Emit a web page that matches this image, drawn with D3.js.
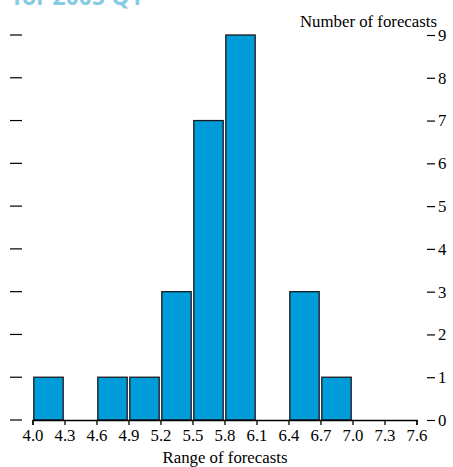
<!DOCTYPE html>
<html><head><meta charset="utf-8">
<script src="https://cdn.jsdelivr.net/npm/d3@7"></script>
<style>body{margin:0;background:#fff}svg{display:block}</style>
</head><body>
<script>
const binEdges = [4.0,4.3,4.6,4.9,5.2,5.5,5.8,6.1,6.4,6.7,7.0,7.3,7.6];
const tickLabels = ["4.0","4.3","4.6","4.9","5.2","5.5","5.8","6.1","6.4","6.7","7.0","7.3","7.6"];
const counts = [1,0,1,1,3,7,9,0,3,1,0,0];
const yTicks = [0,1,2,3,4,5,6,7,8,9];

const W=453,H=467;
const svg=d3.select("body").append("svg").attr("width",W).attr("height",H);
const font="'Liberation Serif', 'DejaVu Serif', serif";
const fs=16.8;
const x=d3.scaleLinear().domain([4.0,7.6]).range([32.5,416.5]);
const y=d3.scaleLinear().domain([0,9]).range([420,35]);

// title (clipped at top, as in the reference)
svg.append("text").attr("x",13).attr("y",5).text("for 2005 Q1")
  .attr("font-family","'Open Sans', 'DejaVu Sans', sans-serif").attr("font-weight","bold")
  .attr("font-size",23).attr("fill","#86cbe4");

// left ticks
svg.append("g").selectAll("line").data(yTicks).join("line")
  .attr("x1",10).attr("x2",22).attr("y1",d=>y(d)).attr("y2",d=>y(d))
  .attr("stroke","#000").attr("stroke-width",1.2);

// right axis
const ra=svg.append("g").attr("transform","translate(427,0)")
  .call(d3.axisRight(y).tickValues(yTicks).tickSize(8).tickPadding(3).tickFormat(d3.format("d")));
ra.select(".domain").remove();
ra.selectAll("line").attr("stroke-width",1.2);
ra.selectAll("text").attr("font-family",font).attr("font-size",fs).attr("fill","#000");

// bars
const data=counts.map((c,i)=>({x0:binEdges[i],x1:binEdges[i+1],c}));
svg.append("g").selectAll("rect").data(data.filter(d=>d.c>0)).join("rect")
  .attr("x",d=>x(d.x0)+1.3).attr("width",d=>x(d.x1)-x(d.x0)-2.6)
  .attr("y",d=>y(d.c)).attr("height",d=>y(0)-y(d.c))
  .attr("fill","#009bd9").attr("stroke","#1a1a1a").attr("stroke-width",1.3);

// x axis
const xa=svg.append("g").attr("transform","translate(0,420)")
  .call(d3.axisBottom(x).tickValues(binEdges).tickSize(5).tickSizeOuter(5).tickPadding(4)
    .tickFormat((d,i)=>tickLabels[i]));
xa.select(".domain").attr("stroke-width",1.3);
xa.selectAll("line").attr("stroke-width",1.3);
xa.selectAll("text").attr("font-family",font).attr("font-size",fs).attr("fill","#000");

svg.append("text").attr("x",437).attr("y",27).attr("text-anchor","end")
  .attr("font-family",font).attr("font-size",fs).text("Number of forecasts");
svg.append("text").attr("x",225).attr("y",463).attr("text-anchor","middle")
  .attr("font-family",font).attr("font-size",fs).text("Range of forecasts");
</script>
</body></html>
